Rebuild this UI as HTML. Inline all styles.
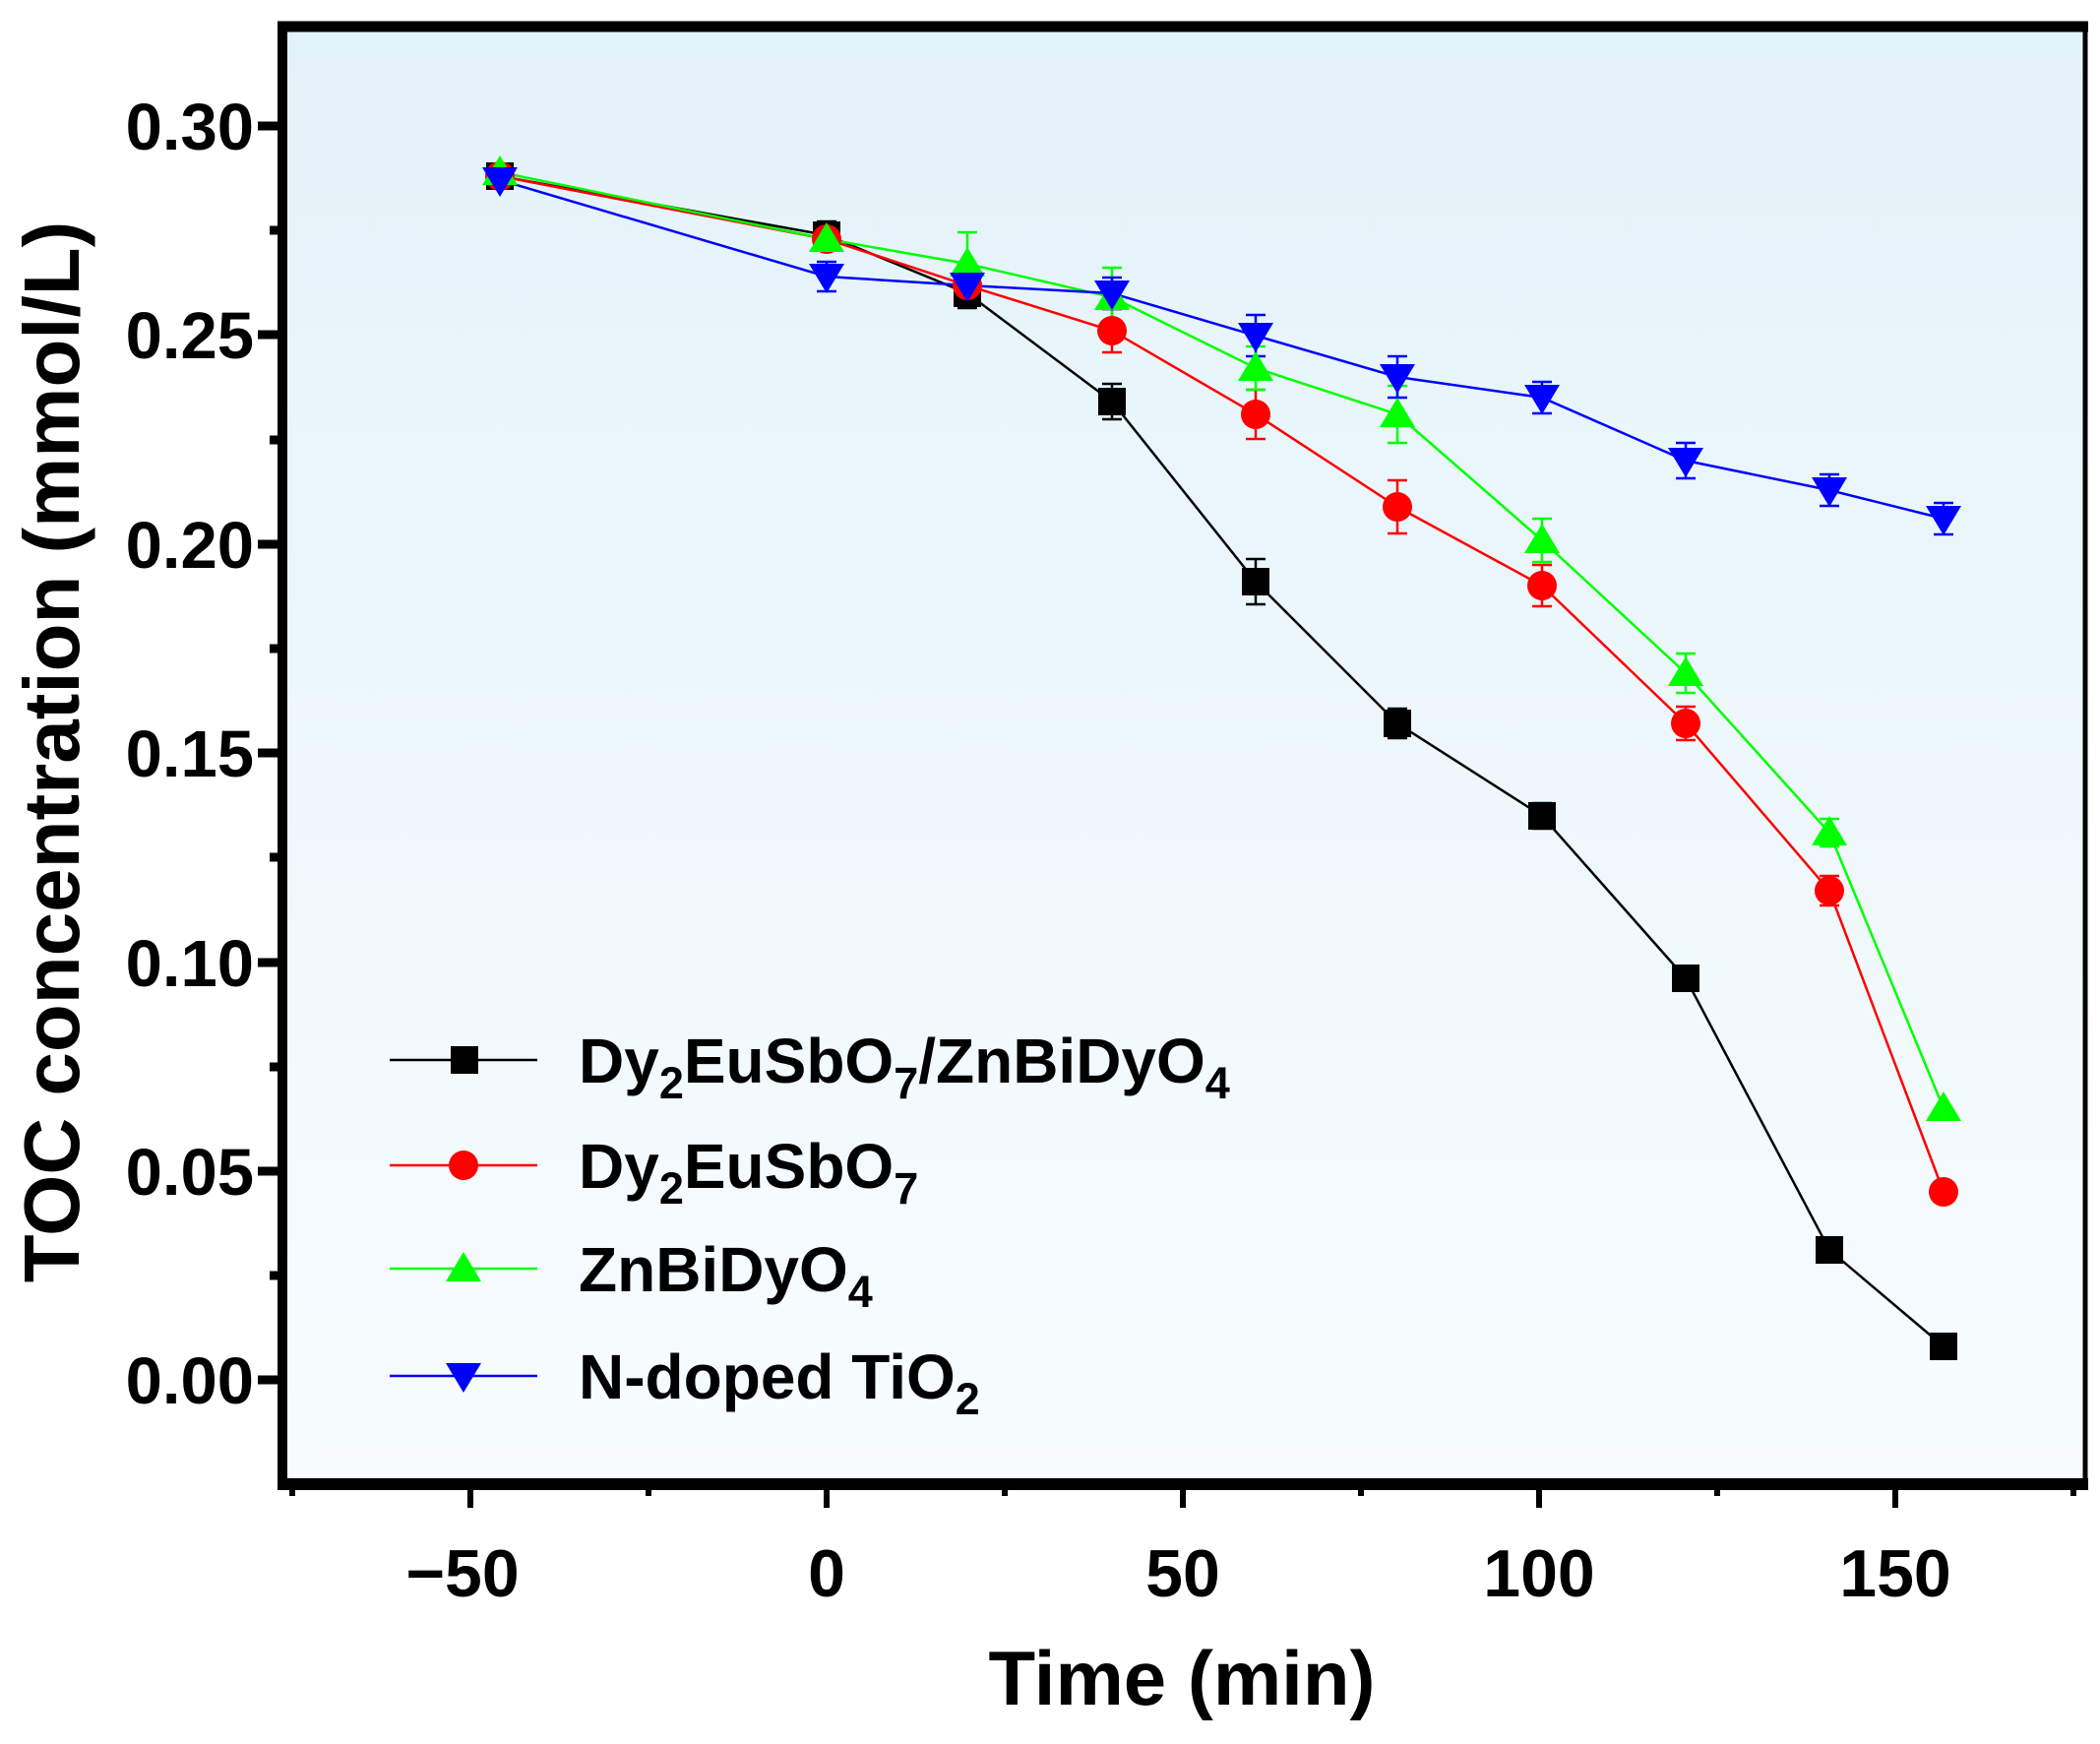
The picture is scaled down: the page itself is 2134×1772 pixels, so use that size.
<!DOCTYPE html>
<html><head><meta charset="utf-8"><style>html,body{margin:0;padding:0;background:#fff}svg{display:block}</style></head>
<body>
<svg width="2134" height="1772" viewBox="0 0 2134 1772" xmlns="http://www.w3.org/2000/svg" font-family="Liberation Sans, Arial, sans-serif" font-weight="bold">
<defs>
<linearGradient id="bg" x1="0" y1="0" x2="0" y2="1">
<stop offset="0" stop-color="#e3f3fa"/><stop offset="1" stop-color="#f8fcfe"/>
</linearGradient>
</defs>
<rect x="287" y="27" width="1832" height="1481" fill="url(#bg)"/>
<g stroke="#000" fill="none">
<line x1="282" y1="27" x2="2122" y2="27" stroke-width="11"/>
<line x1="287" y1="22" x2="287" y2="1513" stroke-width="10"/>
<line x1="2119" y1="22" x2="2119" y2="1513" stroke-width="5"/>
<line x1="282" y1="1508" x2="2122" y2="1508" stroke-width="12"/>
</g>
<g stroke="#000" stroke-width="9">
<line x1="262" y1="128" x2="287" y2="128"/><line x1="274" y1="234" x2="287" y2="234"/>
<line x1="262" y1="340" x2="287" y2="340"/><line x1="274" y1="447" x2="287" y2="447"/>
<line x1="262" y1="553" x2="287" y2="553"/><line x1="274" y1="659" x2="287" y2="659"/>
<line x1="262" y1="765" x2="287" y2="765"/><line x1="274" y1="871" x2="287" y2="871"/>
<line x1="262" y1="978" x2="287" y2="978"/><line x1="274" y1="1084" x2="287" y2="1084"/>
<line x1="262" y1="1190" x2="287" y2="1190"/><line x1="274" y1="1296" x2="287" y2="1296"/>
<line x1="262" y1="1402" x2="287" y2="1402"/>
</g>
<g font-size="67" text-anchor="end">
<text x="258" y="152">0.30</text><text x="258" y="364">0.25</text><text x="258" y="577">0.20</text>
<text x="258" y="789">0.15</text><text x="258" y="1002">0.10</text><text x="258" y="1214">0.05</text>
<text x="258" y="1426">0.00</text>
</g>
<g stroke="#000" stroke-width="6">
<line x1="478" y1="1508" x2="478" y2="1532"/><line x1="840" y1="1508" x2="840" y2="1532"/>
<line x1="1202" y1="1508" x2="1202" y2="1532"/><line x1="1564" y1="1508" x2="1564" y2="1532"/>
<line x1="1926" y1="1508" x2="1926" y2="1532"/>
<line x1="297" y1="1508" x2="297" y2="1520"/><line x1="659" y1="1508" x2="659" y2="1520"/>
<line x1="1021" y1="1508" x2="1021" y2="1520"/><line x1="1383" y1="1508" x2="1383" y2="1520"/>
<line x1="1745" y1="1508" x2="1745" y2="1520"/><line x1="2107" y1="1508" x2="2107" y2="1520"/>
</g>
<g font-size="68" text-anchor="middle">
<text x="470" y="1622">−50</text><text x="840" y="1622">0</text><text x="1202" y="1622">50</text>
<text x="1564" y="1622">100</text><text x="1926" y="1622">150</text>
</g>
<text x="1201" y="1732" font-size="78" text-anchor="middle">Time (min)</text>
<text transform="translate(80,764) rotate(-90)" font-size="80" text-anchor="middle">TOC concentration (mmol/L)</text>
<g stroke-width="2.5" fill="none">
<path stroke="#000" d="M840 225V253M830 225H850M830 253H850M983 283V313M973 283H993M973 313H993M1130 390V426M1120 390H1140M1120 426H1140M1276 568V614M1266 568H1286M1266 614H1286M1420 720V750M1410 720H1430M1410 750H1430M1567 816V842M1557 816H1577M1557 842H1577"/>
<path stroke="#f00" d="M983 273V307M973 273H993M973 307H993M1130 314V358M1120 314H1140M1120 358H1140M1276 396V446M1266 396H1286M1266 446H1286M1420 488V542M1410 488H1430M1410 542H1430M1567 574V616M1557 574H1577M1557 616H1577M1713 718V752M1703 718H1723M1703 752H1723M1859 890V920M1849 890H1869M1849 920H1869"/>
<path stroke="#0f0" d="M983 236V300M973 236H993M973 300H993M1130 272V332M1120 272H1140M1120 332H1140M1276 352V396M1266 352H1286M1266 396H1286M1420 392V450M1410 392H1430M1410 450H1430M1567 527V571M1557 527H1577M1557 571H1577M1713 664V704M1703 664H1723M1703 704H1723M1859 832V860M1849 832H1869M1849 860H1869"/>
<path stroke="#00f" d="M840 266V296M830 266H850M830 296H850M1130 282V314M1120 282H1140M1120 314H1140M1276 320V362M1266 320H1286M1266 362H1286M1420 362V404M1410 362H1430M1410 404H1430M1567 388V420M1557 388H1577M1557 420H1577M1713 450V486M1703 450H1723M1703 486H1723M1859 482V514M1849 482H1869M1849 514H1869M1975 511V543M1965 511H1985M1965 543H1985"/>
</g>
<g fill="none" stroke-width="2.5">
<polyline stroke="#000" points="508,179 840,239 983,298 1130,408 1276,591 1420,735 1567,829 1713,994 1859,1270 1975,1368"/>
<polyline stroke="#f00" points="508,179 840,243 983,290 1130,336 1276,421 1420,515 1567,595 1713,735 1859,905 1975,1211"/>
<polyline stroke="#0f0" points="508,175 840,243 983,268 1130,302 1276,374 1420,421 1567,549 1713,684 1859,846 1975,1126"/>
<polyline stroke="#00f" points="508,183 840,281 983,290 1130,298 1276,341 1420,383 1567,404 1713,468 1859,498 1975,527"/>
</g>
<g fill="#000">
<rect x="494" y="165" width="28" height="28"/><rect x="826" y="225" width="28" height="28"/><rect x="969" y="284" width="28" height="28"/>
<rect x="1116" y="394" width="28" height="28"/><rect x="1262" y="577" width="28" height="28"/><rect x="1406" y="721" width="28" height="28"/>
<rect x="1553" y="815" width="28" height="28"/><rect x="1699" y="980" width="28" height="28"/><rect x="1845" y="1256" width="28" height="28"/>
<rect x="1961" y="1354" width="28" height="28"/>
</g>
<g fill="#f00">
<circle cx="508" cy="179" r="15"/><circle cx="840" cy="243" r="15"/><circle cx="983" cy="290" r="15"/><circle cx="1130" cy="336" r="15"/>
<circle cx="1276" cy="421" r="15"/><circle cx="1420" cy="515" r="15"/><circle cx="1567" cy="595" r="15"/><circle cx="1713" cy="735" r="15"/>
<circle cx="1859" cy="905" r="15"/><circle cx="1975" cy="1211" r="15"/>
</g>
<g fill="#0f0">
<path d="M508 158l18 30h-36z"/><path d="M840 226l18 30h-36z"/><path d="M983 251l18 30h-36z"/><path d="M1130 285l18 30h-36z"/>
<path d="M1276 357l18 30h-36z"/><path d="M1420 404l18 30h-36z"/><path d="M1567 532l18 30h-36z"/><path d="M1713 667l18 30h-36z"/>
<path d="M1859 829l18 30h-36z"/><path d="M1975 1109l18 30h-36z"/>
</g>
<g fill="#00f">
<path d="M508 200l18-30h-36z"/><path d="M840 298l18-30h-36z"/><path d="M983 307l18-30h-36z"/><path d="M1130 315l18-30h-36z"/>
<path d="M1276 358l18-30h-36z"/><path d="M1420 400l18-30h-36z"/><path d="M1567 421l18-30h-36z"/><path d="M1713 485l18-30h-36z"/>
<path d="M1859 515l18-30h-36z"/><path d="M1975 544l18-30h-36z"/>
</g>
<g stroke-width="2.5">
<line x1="396" y1="1077" x2="546" y2="1077" stroke="#000"/>
<line x1="396" y1="1184" x2="546" y2="1184" stroke="#f00"/>
<line x1="396" y1="1289" x2="546" y2="1289" stroke="#0f0"/>
<line x1="396" y1="1398" x2="546" y2="1398" stroke="#00f"/>
</g>
<rect x="458" y="1063" width="28" height="28" fill="#000"/>
<circle cx="471" cy="1184" r="15" fill="#f00"/>
<path d="M471 1272l18 30h-36z" fill="#0f0"/>
<path d="M471 1415l18-30h-36z" fill="#00f"/>
<g font-size="64">
<text x="588" y="1100">Dy<tspan font-size="45" dy="16">2</tspan><tspan dy="-16">EuSbO</tspan><tspan font-size="45" dy="16">7</tspan><tspan dy="-16">/ZnBiDyO</tspan><tspan font-size="45" dy="16">4</tspan></text>
<text x="588" y="1207">Dy<tspan font-size="45" dy="16">2</tspan><tspan dy="-16">EuSbO</tspan><tspan font-size="45" dy="16">7</tspan></text>
<text x="588" y="1312">ZnBiDyO<tspan font-size="45" dy="16">4</tspan></text>
<text x="588" y="1421">N-doped TiO<tspan font-size="45" dy="16">2</tspan></text>
</g>
</svg>
</body></html>
